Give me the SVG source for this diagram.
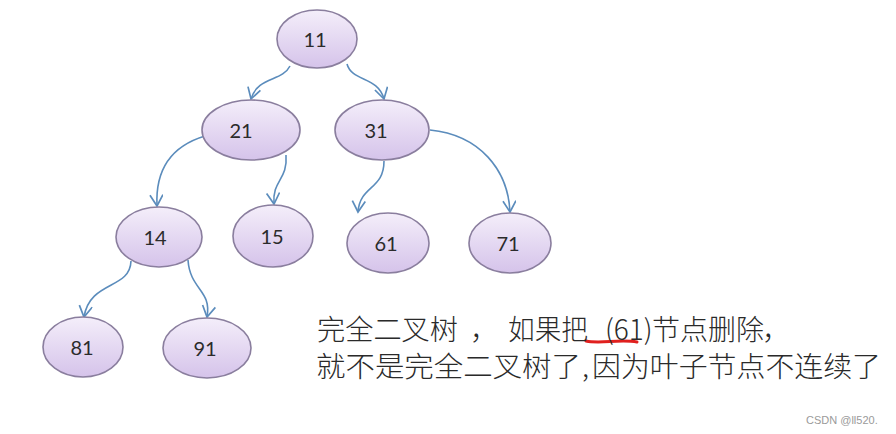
<svg xmlns="http://www.w3.org/2000/svg" width="896" height="434" viewBox="0 0 896 434">
<defs>
<linearGradient id="g" x1="0" y1="0" x2="0" y2="1">
<stop offset="0" stop-color="#f4eefa"/>
<stop offset="1" stop-color="#d5c3ea"/>
</linearGradient>
<marker id="arr" markerWidth="16" markerHeight="16" refX="12" refY="7" orient="auto" markerUnits="userSpaceOnUse">
<path d="M1,0.5 L12,7 L1,13.5" fill="none" stroke="#5b8cbc" stroke-width="1.7"/>
</marker>
<style>
.n ellipse{fill:url(#g);stroke:#8a7e9e;stroke-width:1.6}
.n text{font-family:Lato,"Open Sans","Liberation Sans",sans-serif;font-size:20px;fill:#2b2b2b;text-anchor:middle}
.c path{fill:none;stroke:#5b8cbc;stroke-width:1.6;marker-end:url(#arr)}
.t{font-family:"Noto Sans CJK SC","Noto Sans",sans-serif;font-size:28px;font-weight:300;fill:#2a2a2a}
.w{font-family:"Liberation Sans",sans-serif;font-size:11px;fill:#9a9a9a}
</style>
</defs>
<rect width="896" height="434" fill="#fff"/>
<g id="connectors" class="c">
<path d="M290 66 C282 82,258 76,251 99"/>
<path d="M347 64 C352 82,378 76,384 99"/>
<path d="M205 136 C175 145,155 165,157 206"/>
<path d="M286 155 C288 180,272 180,274 204"/>
<path d="M384 161 C384 190,360 185,358 212"/>
<path d="M430 130 C480 135,508 170,510 212"/>
<path d="M131 261 C130 290,90 280,84 317"/>
<path d="M188 260 C190 290,212 290,207 317"/>
</g>
<g id="n11" class="n"><ellipse cx="317" cy="39" rx="40" ry="29"/><text x="315" y="47">11</text></g>
<g id="n21" class="n"><ellipse cx="251" cy="130" rx="49" ry="30"/><text x="241" y="138">21</text></g>
<g id="n31" class="n"><ellipse cx="382" cy="130" rx="47" ry="30"/><text x="376" y="138">31</text></g>
<g id="n14" class="n"><ellipse cx="159" cy="237" rx="43" ry="30"/><text x="155" y="245">14</text></g>
<g id="n15" class="n"><ellipse cx="273" cy="236" rx="40" ry="31"/><text x="272" y="244">15</text></g>
<g id="n61" class="n"><ellipse cx="388" cy="243" rx="41" ry="30"/><text x="386" y="251">61</text></g>
<g id="n71" class="n"><ellipse cx="510" cy="243" rx="41" ry="30"/><text x="508" y="251">71</text></g>
<g id="n81" class="n"><ellipse cx="83" cy="347" rx="40" ry="30"/><text x="82" y="355">81</text></g>
<g id="n91" class="n"><ellipse cx="207" cy="348" rx="44" ry="30"/><text x="205" y="356">91</text></g>
<g id="note">
<path d="M586 341 C600 344,620 339,637 342" fill="none" stroke="#e0201e" stroke-width="3" stroke-linecap="round"/>
<text class="t" y="340"><tspan x="317" textLength="141" lengthAdjust="spacingAndGlyphs">完全二叉树</tspan><tspan x="470">，</tspan><tspan x="508" textLength="80" lengthAdjust="spacingAndGlyphs">如果把</tspan><tspan x="605">(61)</tspan><tspan x="652" textLength="112" lengthAdjust="spacingAndGlyphs">节点删除</tspan><tspan x="762">，</tspan></text>
<text class="t" y="377"><tspan x="316" textLength="265" lengthAdjust="spacingAndGlyphs">就不是完全二叉树了</tspan><tspan x="582">,</tspan><tspan x="592" textLength="289" lengthAdjust="spacingAndGlyphs">因为叶子节点不连续了</tspan></text>
</g>
<text class="w" x="806" y="424">CSDN @ll520.</text>
</svg>
